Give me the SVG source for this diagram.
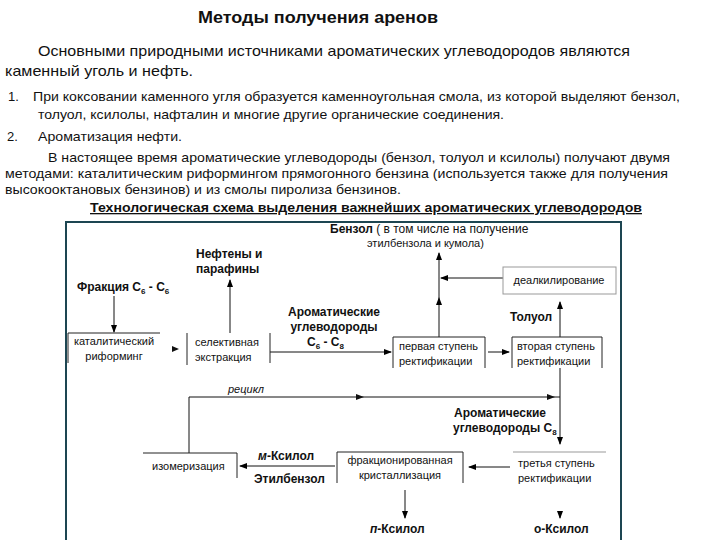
<svg xmlns="http://www.w3.org/2000/svg" width="720" height="540" viewBox="0 0 720 540">
<defs>
<marker id="ah" markerWidth="8" markerHeight="6" refX="7" refY="3" orient="auto" markerUnits="userSpaceOnUse">
<path d="M0,0 L8,3 L0,6 Z" fill="#000"/>
</marker>
<style>
.t{font-family:"Liberation Sans",Arial,sans-serif;fill:#111}
.h{font-size:16px;font-weight:bold}
.p{font-size:14.5px}
.s{font-size:13px}
.b{font-size:12px;font-weight:bold}
.n{font-size:11px}
.box{fill:none;stroke:#222;stroke-width:1}
.lt{fill:none;stroke:#999;stroke-width:1}
.c{fill:none;stroke:#111;stroke-width:1}
</style>
</defs>
<rect width="720" height="540" fill="#fff"/>
<g id="text-top">
<text class="t h" x="198" y="23" textLength="240" lengthAdjust="spacingAndGlyphs">Методы получения аренов</text>
<text class="t p" x="38" y="56" textLength="592" lengthAdjust="spacingAndGlyphs">Основными природными источниками ароматических углеводородов являются</text>
<text class="t p" x="5" y="76" textLength="188" lengthAdjust="spacingAndGlyphs">каменный уголь и нефть.</text>
<text class="t s" x="8" y="101">1.</text>
<text class="t s" x="33" y="101" textLength="647" lengthAdjust="spacingAndGlyphs">При коксовании каменного угля образуется каменноугольная смола, из которой выделяют бензол,</text>
<text class="t s" x="38" y="119" textLength="466" lengthAdjust="spacingAndGlyphs">толуол, ксилолы, нафталин и многие другие органические соединения.</text>
<text class="t s" x="7" y="141">2.</text>
<text class="t s" x="38" y="141" textLength="144" lengthAdjust="spacingAndGlyphs">Ароматизация нефти.</text>
<text class="t s" x="48" y="162" textLength="622" lengthAdjust="spacingAndGlyphs">В настоящее время ароматические углеводороды (бензол, толуол и ксилолы) получают двумя</text>
<text class="t s" x="5" y="178" textLength="663" lengthAdjust="spacingAndGlyphs">методами: каталитическим риформингом прямогонного бензина (используется также для получения</text>
<text class="t s" x="5" y="194" textLength="396" lengthAdjust="spacingAndGlyphs">высокооктановых бензинов) и из смолы пиролиза бензинов.</text>
<text class="t s" x="90" y="212" font-weight="bold" text-decoration="underline" textLength="552" lengthAdjust="spacingAndGlyphs">Технологическая схема выделения важнейших ароматических углеводородов</text>
</g>
<g id="frame">
<path d="M66,541 V222 H621 V541" fill="none" stroke="#1d4652" stroke-width="2"/>
</g>
<g id="connectors">
<line class="c" x1="114" y1="296" x2="114" y2="332" marker-end="url(#ah)"/>
<path d="M172,346 L179,349 L172,352 Z" fill="#111"/>
<line class="c" x1="230" y1="333" x2="230" y2="280" marker-end="url(#ah)"/>
<line class="c" x1="270" y1="352" x2="391" y2="352" marker-end="url(#ah)"/>
<line class="c" x1="488" y1="352" x2="509" y2="352" marker-end="url(#ah)"/>
<line class="c" x1="439" y1="337" x2="439" y2="298" marker-end="url(#ah)"/>
<line class="c" x1="439" y1="298" x2="439" y2="253" marker-end="url(#ah)"/>
<line class="c" x1="503" y1="278" x2="441" y2="278" marker-end="url(#ah)"/>
<line class="c" x1="560" y1="337" x2="560" y2="302" marker-end="url(#ah)"/>
<line class="c" x1="560" y1="368" x2="560" y2="444" marker-end="url(#ah)"/>
<path class="c" d="M189,453 V397 H560"/>
<path d="M356,394 L364,397 L356,400 Z" fill="#111"/>
<path d="M547,394 L555,397 L547,400 Z" fill="#111"/>
<line class="c" x1="335" y1="466" x2="240" y2="466" marker-end="url(#ah)"/>
<line class="c" x1="510" y1="467" x2="469" y2="467" marker-end="url(#ah)"/>
<line class="c" x1="405" y1="490" x2="405" y2="518" marker-end="url(#ah)"/>
<line x1="560" y1="511" x2="560" y2="518" stroke="#111" marker-end="url(#ah)"/>
</g>
<g id="labels">
<text class="t b" x="330" y="233" font-size="11">Бензол <tspan font-weight="normal">( в том числе на получение</tspan></text>
<text class="t n" x="367" y="247">этилбензола и кумола)</text>
<text class="t b" x="196" y="258">Нефтены и</text>
<text class="t b" x="196" y="273">парафины</text>
<text class="t b" x="77" y="291">Фракция С<tspan font-size="8" dy="3">6</tspan><tspan dy="-3"> - С</tspan><tspan font-size="8" dy="3">6</tspan></text>
<text class="t b" x="334" y="316" text-anchor="middle">Ароматические</text>
<text class="t b" x="334" y="331" text-anchor="middle">углеводороды</text>
<text class="t b" x="307" y="346">С<tspan font-size="8" dy="3">6</tspan><tspan dy="-3"> - С</tspan><tspan font-size="8" dy="3">8</tspan></text>
<text class="t b" x="510" y="321">Толуол</text>
<text class="t n" x="228" y="393" font-style="italic">рецикл</text>
<text class="t b" x="500" y="417" text-anchor="middle">Ароматические</text>
<text class="t b" x="453" y="432">углеводороды С<tspan font-size="8" dy="3">8</tspan></text>
<text class="t b" x="258" y="460"><tspan font-style="italic">м</tspan>-Ксилол</text>
<text class="t b" x="254" y="483">Этилбензол</text>
<text class="t b" x="370" y="533"><tspan font-style="italic">п</tspan>-Ксилол</text>
<text class="t b" x="534" y="533">о-Ксилол</text>
</g>
<g id="reforming">
<path class="box" d="M68,363 V333 H160"/>
<text class="t n" x="114" y="345" text-anchor="middle">каталитический</text>
<text class="t n" x="114" y="360" text-anchor="middle">риформинг</text>
</g>
<g id="extraction">
<path class="box" d="M187,333 V365 M270,333 V363"/>
<text class="t n" x="195" y="346">селективная</text>
<text class="t n" x="195" y="361">экстракция</text>
</g>
<g id="rect1">
<path class="box" d="M393,368 V337 H485 V368"/>
<text class="t n" x="399" y="350">первая ступень</text>
<text class="t n" x="399" y="365">ректификации</text>
</g>
<g id="rect2">
<path class="box" d="M512,368 V337 H602 V368"/>
<text class="t n" x="517" y="350">вторая ступень</text>
<text class="t n" x="517" y="365">ректификации</text>
</g>
<g id="dealk">
<rect class="lt" x="503" y="267" width="113" height="27"/>
<text class="t n" x="559" y="284" text-anchor="middle">деалкилирование</text>
</g>
<g id="isom">
<path class="box" d="M143,453 H237 V478"/>
<text class="t n" x="152" y="470">изомеризация</text>
</g>
<g id="cryst">
<path class="box" d="M337,483 V452 H463 V483"/>
<text class="t n" x="400" y="464" text-anchor="middle">фракционированная</text>
<text class="t n" x="400" y="479" text-anchor="middle">кристаллизация</text>
</g>
<g id="rect3">
<line class="lt" x1="513" y1="452" x2="606" y2="452"/>
<text class="t n" x="518" y="467">третья ступень</text>
<text class="t n" x="518" y="482">ректификации</text>
</g>
</svg>
